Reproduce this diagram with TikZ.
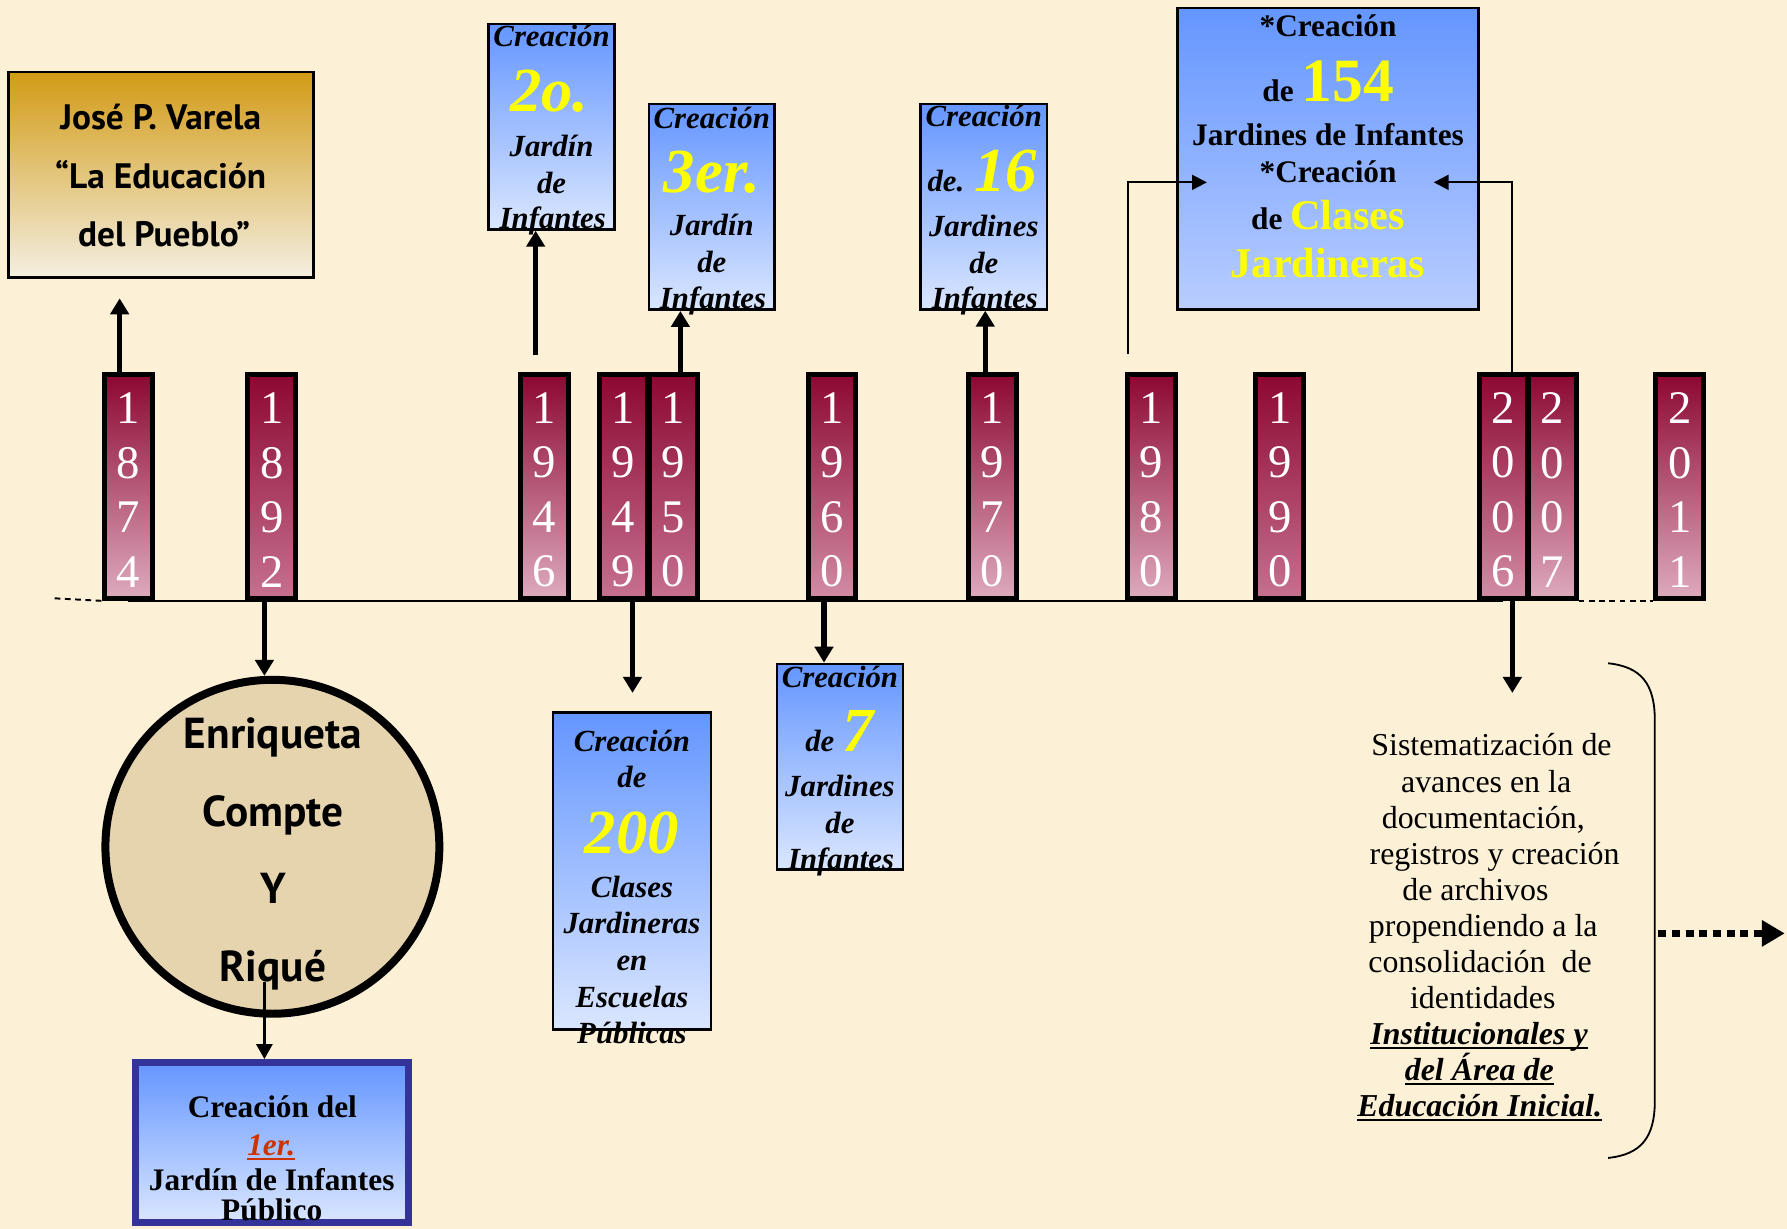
\documentclass[tikz,border=0pt]{standalone}
\usepackage{fontspec}
\setmainfont{Liberation Serif}
\newfontfamily\gillf{PT Sans}
\usetikzlibrary{arrows.meta,calc}
\newsavebox\ulbox
\newcommand\myul[1]{\sbox\ulbox{#1}\rlap{\usebox\ulbox}\rule[-4pt]{\wd\ulbox}{1.6pt}}
\newcommand\myfs[1]{\fontsize{#1pt}{#1pt}\selectfont}
\definecolor{bgc}{RGB}{252,241,215}
\definecolor{ytop}{RGB}{140,8,50}
\definecolor{ylight}{RGB}{222,170,190}
\definecolor{ydark}{RGB}{198,112,144}
\definecolor{ymid}{RGB}{210,140,165}
\definecolor{btop}{RGB}{100,150,255}
\definecolor{bbot}{RGB}{218,230,255}
\definecolor{bbotb}{RGB}{185,205,255}
\definecolor{goldc}{RGB}{210,155,22}
\definecolor{creamc}{RGB}{244,239,226}
\definecolor{circfill}{RGB}{230,212,174}
\definecolor{navyc}{RGB}{51,51,153}
\definecolor{rustc}{RGB}{204,51,0}
\definecolor{yelc}{RGB}{255,255,0}
\tikzset{
  ybox/.style={draw=black, line width=4.4pt, top color=ytop, bottom color=#1,
    minimum width=42pt, minimum height=196pt, inner sep=0pt, text=white,
    font=\fontsize{41pt}{47.8pt}\selectfont, align=center},
  ybox/.default=ylight,
  bbox/.style={draw=black, line width=2.3pt, top color=btop, bottom color=bbot, inner sep=0pt},
  itx/.style={anchor=base, inner sep=0pt, font=\myfs{27}\bfseries\itshape},
  bdx/.style={anchor=base, inner sep=0pt, font=\myfs{27.5}\bfseries},
  gsx/.style={anchor=base, inner sep=0pt, font=\gillf\bfseries\myfs{31}},
  csx/.style={anchor=base, inner sep=0pt, font=\gillf\bfseries\myfs{38}},
  rgx/.style={anchor=base, inner sep=0pt, font=\myfs{28}},
  rbx/.style={anchor=base, inner sep=0pt, font=\myfs{28}\bfseries\itshape},
  arr/.style={line width=4.5pt, -{Triangle[width=16pt,length=14pt]}},
  tarr/.style={line width=1.8pt, -{Triangle[width=13pt,length=13pt]}},
  tl/.style={line width=1.7pt},
}
\newcommand\Y[1]{\textcolor{yelc}{\myfs{55}#1}}
\begin{document}
\begin{tikzpicture}[x=1pt,y=-1pt]
\useasboundingbox (0,0) rectangle (1568,1078);
\fill[bgc] (0,0) rectangle (1568,1078);

% ---------- year boxes ----------
\node[ybox] (y1874) at (112.5,427) {\rule{0pt}{33pt}1\\8\\7\\4};
\node[ybox=ydark] (y1892) at (238.5,427) {\rule{0pt}{33pt}1\\8\\9\\2};
\node[ybox] (y1946) at (477.5,427) {\rule{0pt}{33pt}1\\9\\4\\6};
\node[ybox=ydark] (y1949) at (547,427) {\rule{0pt}{33pt}1\\9\\4\\9};
\node[ybox=ydark] (y1950) at (591,427) {\rule{0pt}{33pt}1\\9\\5\\0};
\node[ybox=ymid] (y1960) at (730,427) {\rule{0pt}{33pt}1\\9\\6\\0};
\node[ybox] (y1970) at (870.5,427) {\rule{0pt}{33pt}1\\9\\7\\0};
\node[ybox] (y1980) at (1010.5,427) {\rule{0pt}{33pt}1\\9\\8\\0};
\node[ybox=ydark] (y1990) at (1123,427) {\rule{0pt}{33pt}1\\9\\9\\0};
\node[ybox=ymid] (y2006) at (1319,427) {\rule{0pt}{33pt}2\\0\\0\\6};
\node[ybox] (y2007) at (1362,427) {\rule{0pt}{33pt}2\\0\\0\\7};
\node[ybox] (y2011) at (1474,427) {\rule{0pt}{33pt}2\\0\\1\\1};

% ---------- timeline ----------
\coordinate (tlL) at (48,525);
\draw[tl] (y1874.south) -- (y2006.south);
\draw[tl, dash pattern=on 5pt off 4pt] (tlL) -- (y1874.south west);
\draw[tl, dash pattern=on 5pt off 4pt] (y2007.south east) -- (y2011.south west);

% ---------- upper boxes ----------
\node[draw=black, line width=2.3pt, top color=goldc, bottom color=creamc,
  minimum width=267.7pt, minimum height=180.5pt, inner sep=0pt] (varela) at (141.4,153.4) {};
\node[gsx] (v1) at (141,114) {José P. Varela};
\node[gsx] (v2) at (141,165.2) {“La Educación};
\node[gsx] (v3) at (144,216.4) {del Pueblo”};

\node[bbox, minimum width=110.5pt, minimum height=180.3pt] (b2o) at (484,111.2) {};
\node[itx] (t2a) at (484,41) {Creación};
\node[itx] (t2b) at (482,98) {\Y{2o.}};
\node[itx] (t2c) at (484,137.5) {Jardín};
\node[itx] (t2d) at (484,169.6) {de};
\node[itx] (t2e) at (485,200.3) {Infantes};

\node[bbox, minimum width=110.3pt, minimum height=180.5pt] (b3er) at (624.6,181.5) {};
\node[itx] (t3a) at (624.6,112.6) {Creación};
\node[itx] (t3b) at (624.6,169) {\Y{3er.}};
\node[itx] (t3c) at (624.6,207) {Jardín};
\node[itx] (t3d) at (624.6,239.3) {de};
\node[itx] (t3e) at (625.6,270.5) {Infantes};

\node[bbox, minimum width=111pt, minimum height=180.2pt] (b16) at (863.2,181.4) {};
\node[itx] (t6a) at (863.2,111.1) {Creación};
\node[itx] (t6b) at (862,168.2) {de. \Y{16}};
\node[itx] (t6c) at (863.2,207.6) {Jardines};
\node[itx] (t6d) at (863.2,239.8) {de};
\node[itx] (t6e) at (864.2,270.5) {Infantes};

\node[bbox, bottom color=bbotb, minimum width=264.5pt, minimum height=264.5pt] (b154) at (1165.3,139.2) {};
\node[bdx] (t5a) at (1165.3,31.6) {*Creación};
\node[bdx] (t5b) at (1165.3,89.2) {de \textcolor{yelc}{\myfs{54}154}};
\node[bdx] (t5c) at (1165.3,128.1) {Jardines de Infantes};
\node[bdx] (t5d) at (1165.3,160.3) {*Creación};
\node[bdx] (t5e) at (1165.3,201.2) {de \textcolor{yelc}{\myfs{37}Clases}};
\node[bdx, text=yelc, font=\myfs{37}\bfseries] (t5f) at (1165.3,243.3) {Jardineras};

% ---------- lower boxes ----------
\node[circle, draw=black, line width=7pt, fill=circfill, minimum size=293pt, inner sep=0pt] (circ) at (239,743) {};
\node[csx] (e1) at (239.5,657.1) {Enriqueta};
\node[csx] (e2) at (239.5,725.6) {Compte};
\node[csx] (e3) at (239.5,792.4) {Y};
\node[csx] (e4) at (239.5,860.9) {Riqué};

\node[draw=navyc, line width=6pt, top color=btop, bottom color=bbot,
  minimum width=239.7pt, minimum height=140.7pt, inner sep=0pt] (b1er) at (238.4,1002.6) {};
\node[bdx] (p1) at (239,980.9) {Creación del};
\node[bdx, text=rustc, font=\myfs{27.5}\bfseries\itshape] (p2) at (238,1013.7) {\myul{1er.}};
\node[bdx] (p3) at (238.4,1044.6) {Jardín de Infantes};
\node[bdx] (p4) at (238.4,1071) {Público};

\node[bbox, minimum width=138.7pt, minimum height=278pt] (b200) at (554.5,764.1) {};
\node[itx] (q1) at (554.5,659.5) {Creación};
\node[itx] (q2) at (554.5,690.8) {de};
\node[itx] (q3) at (554.5,748.7) {\Y{200}};
\node[itx] (q4) at (554.5,787.3) {Clases};
\node[itx] (q5) at (554.5,819.5) {Jardineras};
\node[itx] (q6) at (554.5,851.7) {en};
\node[itx] (q7) at (554.5,883.9) {Escuelas};
\node[itx] (q8) at (554.5,915.4) {Públicas};

\node[bbox, minimum width=110.6pt, minimum height=180.3pt] (b7) at (737,672.7) {};
\node[itx] (s1) at (737,603) {Creación};
\node[itx] (s2) at (736.5,659.5) {de \Y{7}};
\node[itx] (s3) at (737,699) {Jardines};
\node[itx] (s4) at (737,731.2) {de};
\node[itx] (s5) at (738,762.5) {Infantes};

% ---------- right text ----------
\node[rgx] (r1) at (1308.7,663.3) {Sistematización de};
\node[rgx] (r2) at (1304,695) {avances en la};
\node[rgx] (r3) at (1301.5,726.6) {documentación,};
\node[rgx] (r4) at (1311.4,758.3) {registros y creación};
\node[rgx] (r5) at (1294.6,789.9) {de archivos};
\node[rgx] (r6) at (1301.5,821.6) {propendiendo a la};
\node[rgx] (r7) at (1298.6,853.2) {consolidación\ \ de};
\node[rgx] (r8) at (1301,884.9) {identidades};
\node[rbx] (r9) at (1297.8,916.5) {\myul{Institucionales y}};
\node[rbx] (r10) at (1298,948.2) {\myul{del Área de}};
\node[rbx] (r11) at (1298.3,979.8) {\myul{Educación Inicial.}};

% brace and dotted arrow
\draw[line width=1.6pt] (1411,582) .. controls (1440,585) and (1452,600) .. (1452,632)
  -- (1452,966) .. controls (1452,998) and (1440,1013) .. (1411,1016);
\coordinate (dot0) at (1455,819);
\coordinate (dot1) at (1566,819);
\draw[line width=6pt, dash pattern=on 7pt off 5pt, -{Triangle[width=22pt,length=20pt]}] (dot0) -- (dot1);

% ---------- connectors ----------
\coordinate (a1) at ($(y1874.north)+(-7.5,0)$);
\draw[arr, shorten >=17pt] (a1) -- (a1 |- varela.south);
\coordinate (a2) at ($(y1946.north)+(-7.5,0)$);
\draw[arr, shorten <=15pt] (a2) -- (a2 |- b2o.south);
\coordinate (a3) at ($(y1950.north)+(6,0)$);
\draw[arr] (a3) -- (a3 |- b3er.south);
\coordinate (a4) at ($(y1970.north)+(-6,0)$);
\draw[arr] (a4) -- (a4 |- b16.south);

\coordinate (d1) at ($(y1892.south)+(-6.5,0)$);
\draw[arr] (d1) -- (d1 |- circ.north);
\coordinate (d2) at ($(y1949.south)+(8,0)$);
\draw[arr, shorten >=16pt] (d2) -- (d2 |- b200.north);
\coordinate (d3) at ($(y1960.south)+(-7,0)$);
\draw[arr] (d3) -- (d3 |- b7.north);
\coordinate (d4) at ($(y2006.south)+(8,0)$);
\coordinate (d4e) at (1327,608);
\draw[arr] (d4) -- (d4e);

\coordinate (k1) at (1059,160);
\coordinate (k2) at (1258,160);
\coordinate (l8) at ($(y1980.north)+(-20.5,0)$);
\draw[tarr, shorten <=16pt] (l8) |- (k1);
\coordinate (r06) at ($(y2006.north)+(8,0)$);
\draw[tarr] (r06) |- (k2);

\coordinate (c9) at (232,862);
\draw[line width=2.3pt, -{Triangle[width=14pt,length=13pt]}] (c9) -- (c9 |- b1er.north);
\end{tikzpicture}
\end{document}
